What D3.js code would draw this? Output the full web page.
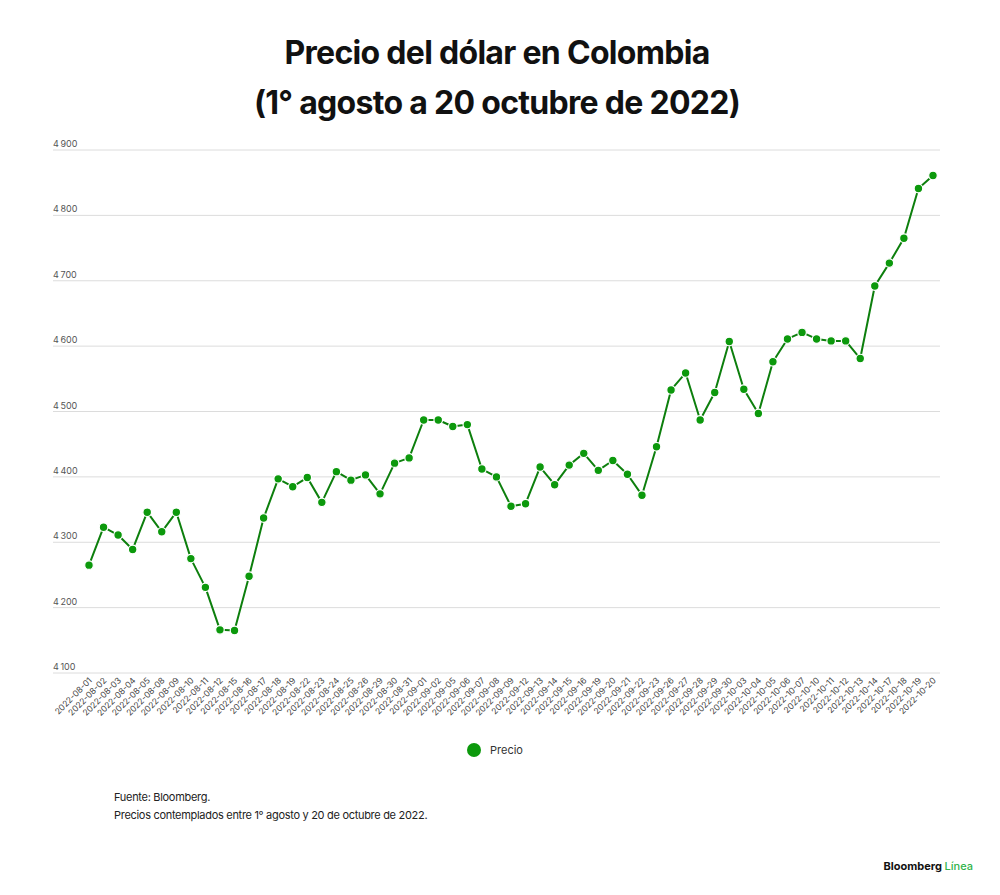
<head>
    <meta name="viewport" content="width=device-width, initial-scale=1">
    <style>
        body { margin: 0; background: #fff; }
        text { font-family: Inter, "Noto Sans", sans-serif; }
    </style>
    <script src="https://d3js.org/d3.v7.min.js"></script>
</head>
<body>
    <div id="chart"></div>
    <script>

        // fechas (días hábiles) y precio del dólar en pesos
        var fechas = [
            "2022-08-01","2022-08-02","2022-08-03","2022-08-04","2022-08-05","2022-08-08","2022-08-09",
            "2022-08-10","2022-08-11","2022-08-12","2022-08-15","2022-08-16","2022-08-17","2022-08-18",
            "2022-08-19","2022-08-22","2022-08-23","2022-08-24","2022-08-25","2022-08-26","2022-08-29",
            "2022-08-30","2022-08-31","2022-09-01","2022-09-02","2022-09-05","2022-09-06","2022-09-07",
            "2022-09-08","2022-09-09","2022-09-12","2022-09-13","2022-09-14","2022-09-15","2022-09-16",
            "2022-09-19","2022-09-20","2022-09-21","2022-09-22","2022-09-23","2022-09-26","2022-09-27",
            "2022-09-28","2022-09-29","2022-09-30","2022-10-03","2022-10-04","2022-10-05","2022-10-06",
            "2022-10-07","2022-10-10","2022-10-11","2022-10-12","2022-10-13","2022-10-14","2022-10-17",
            "2022-10-18","2022-10-19","2022-10-20"
        ];

        var precios = [
            4265, 4323, 4311, 4289, 4346, 4316, 4346,
            4275, 4231, 4166, 4165, 4248, 4337, 4397,
            4385, 4399, 4361, 4408, 4395, 4403, 4374,
            4421, 4429, 4487, 4487, 4477, 4480, 4412,
            4400, 4355, 4359, 4415, 4388, 4418, 4436,
            4410, 4425, 4404, 4372, 4446, 4533, 4559,
            4487, 4529, 4607, 4534, 4497, 4576, 4611,
            4621, 4611, 4608, 4608, 4581, 4692, 4727,
            4765, 4841, 4861
        ];

        var yTicks = [4100, 4200, 4300, 4400, 4500, 4600, 4700, 4800, 4900];

        var titulo = ["Precio del dólar en Colombia", "(1° agosto a 20 octubre de 2022)"];
        var notas = ["Fuente: Bloomberg.", "Precios contemplados entre 1° agosto y 20 de octubre de 2022."];

        var W = 1000, H = 895;
        var verde = "#0c990c", verdeLinea = "#0d7f0d";

        var svg = d3.select("#chart").append("svg")
            .attr("width", W)
            .attr("height", H);

        var x = d3.scalePoint()
            .domain(fechas)
            .range([89, 933]);

        var y = d3.scaleLinear()
            .domain([4100, 4900])
            .range([673, 150]);

        // título
        svg.selectAll(".titulo")
            .data(titulo)
            .enter().append("text")
            .attr("class", "titulo")
            .attr("x", 497)
            .attr("y", (d, i) => 64 + i * 50)
            .attr("text-anchor", "middle")
            .attr("font-size", 32)
            .attr("font-weight", 700)
            .attr("letter-spacing", -0.7)
            .attr("fill", "#111")
            .text(d => d);

        // grilla y etiquetas del eje y
        var grid = svg.append("g");
        grid.selectAll("line")
            .data(yTicks)
            .enter().append("line")
            .attr("x1", 53)
            .attr("x2", 940)
            .attr("y1", d => y(d))
            .attr("y2", d => y(d))
            .attr("stroke", "#dcdcdc")
            .attr("stroke-width", 1);

        grid.selectAll("text")
            .data(yTicks)
            .enter().append("text")
            .attr("x", 53)
            .attr("y", d => y(d) - 3)
            .attr("font-size", 9)
            .attr("fill", "#555")
            .text(d => d3.format(",")(d).replace(",", "\u2009"));

        // eje x con etiquetas rotadas
        var xAxis = svg.append("g")
            .attr("transform", "translate(0,676)")
            .call(d3.axisBottom(x).tickSize(0).tickPadding(0));
        xAxis.select(".domain").remove();
        xAxis.selectAll("text")
            .attr("font-family", "Inter, sans-serif")
            .attr("font-size", 8.5)
            .attr("fill", "#444")
            .attr("text-anchor", "end")
            .attr("dy", 0)
            .attr("transform", "translate(3,5) rotate(-45)");

        // línea
        svg.append("path")
            .datum(precios)
            .attr("fill", "none")
            .attr("stroke", verdeLinea)
            .attr("stroke-width", 2)
            .attr("stroke-linejoin", "round")
            .attr("d", d3.line()
                .x((d, i) => x(fechas[i]))
                .y(d => y(d)));

        // puntos
        svg.append("g").selectAll("circle")
            .data(precios)
            .enter().append("circle")
            .attr("cx", (d, i) => x(fechas[i]))
            .attr("cy", d => y(d))
            .attr("r", 4.3)
            .attr("fill", verde)
            .attr("stroke", "#fff")
            .attr("stroke-width", 1.2);

        // leyenda
        svg.append("circle")
            .attr("cx", 474)
            .attr("cy", 750)
            .attr("r", 7)
            .attr("fill", verde);
        svg.append("text")
            .attr("x", 490)
            .attr("y", 754)
            .attr("font-size", 11)
            .attr("fill", "#333")
            .text("Precio");

        // notas
        svg.selectAll(".nota")
            .data(notas)
            .enter().append("text")
            .attr("class", "nota")
            .attr("x", 114)
            .attr("y", (d, i) => 801 + i * 18)
            .attr("font-size", 11)
            .attr("letter-spacing", -0.3)
            .attr("fill", "#222")
            .text(d => d);

        // marca
        var marca = svg.append("text")
            .attr("x", 973)
            .attr("y", 870)
            .attr("text-anchor", "end")
            .attr("font-size", 11)
            .attr("font-weight", 700)
            .attr("fill", "#111");
        marca.append("tspan").text("Bloomberg ");
        marca.append("tspan").attr("fill", "#2fb34a").attr("font-weight", 500).text("Línea");

    </script>
</body>
